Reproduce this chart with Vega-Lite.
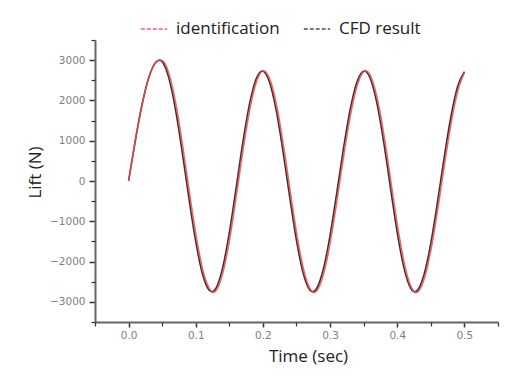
{
  "$schema": "https://vega.github.io/schema/vega-lite/v6.json",
  "autosize": "none",
  "width": 403,
  "height": 282,
  "padding": {"left": 95, "top": 40, "right": 26, "bottom": 56},
  "background": "white",
  "config": {
    "view": {"stroke": null},
    "font": "Open Sans",
    "legend": {
      "orient": "none",
      "legendX": 45,
      "legendY": -25,
      "direction": "horizontal",
      "symbolType": "stroke",
      "symbolStrokeWidth": 1.5,
      "symbolDash": [4, 2],
      "symbolSize": 700,
      "labelFontSize": 17,
      "labelFont": "Open Sans",
      "labelColor": "#222",
      "labelOffset": 8,
      "columnPadding": 20,
      "title": null
    }
  },
  "data": {
    "values": [
      {"t": 0, "lift": 0, "series": "CFD result"},
      {"t": 0.01, "lift": 1004, "series": "CFD result"},
      {"t": 0.02, "lift": 1893, "series": "CFD result"},
      {"t": 0.03, "lift": 2562, "series": "CFD result"},
      {"t": 0.04, "lift": 2937, "series": "CFD result"},
      {"t": 0.046, "lift": 3000, "series": "CFD result"},
      {"t": 0.05, "lift": 2963, "series": "CFD result"},
      {"t": 0.06, "lift": 2554, "series": "CFD result"},
      {"t": 0.07, "lift": 1761, "series": "CFD result"},
      {"t": 0.08, "lift": 700, "series": "CFD result"},
      {"t": 0.09, "lift": -450, "series": "CFD result"},
      {"t": 0.1, "lift": -1505, "series": "CFD result"},
      {"t": 0.11, "lift": -2310, "series": "CFD result"},
      {"t": 0.12, "lift": -2713, "series": "CFD result"},
      {"t": 0.124, "lift": -2750, "series": "CFD result"},
      {"t": 0.13, "lift": -2665, "series": "CFD result"},
      {"t": 0.14, "lift": -2158, "series": "CFD result"},
      {"t": 0.15, "lift": -1279, "series": "CFD result"},
      {"t": 0.16, "lift": -183, "series": "CFD result"},
      {"t": 0.17, "lift": 946, "series": "CFD result"},
      {"t": 0.18, "lift": 1908, "series": "CFD result"},
      {"t": 0.19, "lift": 2538, "series": "CFD result"},
      {"t": 0.199, "lift": 2730, "series": "CFD result"},
      {"t": 0.21, "lift": 2445, "series": "CFD result"},
      {"t": 0.22, "lift": 1735, "series": "CFD result"},
      {"t": 0.23, "lift": 724, "series": "CFD result"},
      {"t": 0.24, "lift": -410, "series": "CFD result"},
      {"t": 0.25, "lift": -1479, "series": "CFD result"},
      {"t": 0.26, "lift": -2292, "series": "CFD result"},
      {"t": 0.27, "lift": -2712, "series": "CFD result"},
      {"t": 0.274, "lift": -2750, "series": "CFD result"},
      {"t": 0.28, "lift": -2668, "series": "CFD result"},
      {"t": 0.29, "lift": -2186, "series": "CFD result"},
      {"t": 0.3, "lift": -1347, "series": "CFD result"},
      {"t": 0.31, "lift": -289, "series": "CFD result"},
      {"t": 0.32, "lift": 817, "series": "CFD result"},
      {"t": 0.33, "lift": 1785, "series": "CFD result"},
      {"t": 0.34, "lift": 2459, "series": "CFD result"},
      {"t": 0.351, "lift": 2730, "series": "CFD result"},
      {"t": 0.36, "lift": 2538, "series": "CFD result"},
      {"t": 0.37, "lift": 1908, "series": "CFD result"},
      {"t": 0.38, "lift": 946, "series": "CFD result"},
      {"t": 0.39, "lift": -183, "series": "CFD result"},
      {"t": 0.4, "lift": -1279, "series": "CFD result"},
      {"t": 0.41, "lift": -2158, "series": "CFD result"},
      {"t": 0.42, "lift": -2665, "series": "CFD result"},
      {"t": 0.426, "lift": -2750, "series": "CFD result"},
      {"t": 0.43, "lift": -2714, "series": "CFD result"},
      {"t": 0.44, "lift": -2314, "series": "CFD result"},
      {"t": 0.45, "lift": -1542, "series": "CFD result"},
      {"t": 0.46, "lift": -511, "series": "CFD result"},
      {"t": 0.47, "lift": 598, "series": "CFD result"},
      {"t": 0.48, "lift": 1607, "series": "CFD result"},
      {"t": 0.49, "lift": 2352, "series": "CFD result"},
      {"t": 0.5, "lift": 2716, "series": "CFD result"},
      {"t": 0, "lift": 0, "series": "identification"},
      {"t": 0.01, "lift": 1004, "series": "identification"},
      {"t": 0.02, "lift": 1893, "series": "identification"},
      {"t": 0.03, "lift": 2562, "series": "identification"},
      {"t": 0.04, "lift": 2937, "series": "identification"},
      {"t": 0.047, "lift": 3000, "series": "identification"},
      {"t": 0.052, "lift": 2963, "series": "identification"},
      {"t": 0.062, "lift": 2554, "series": "identification"},
      {"t": 0.072, "lift": 1761, "series": "identification"},
      {"t": 0.082, "lift": 700, "series": "identification"},
      {"t": 0.092, "lift": -450, "series": "identification"},
      {"t": 0.102, "lift": -1505, "series": "identification"},
      {"t": 0.112, "lift": -2310, "series": "identification"},
      {"t": 0.122, "lift": -2713, "series": "identification"},
      {"t": 0.126, "lift": -2770, "series": "identification"},
      {"t": 0.132, "lift": -2680, "series": "identification"},
      {"t": 0.142, "lift": -2170, "series": "identification"},
      {"t": 0.152, "lift": -1285, "series": "identification"},
      {"t": 0.162, "lift": -185, "series": "identification"},
      {"t": 0.172, "lift": 946, "series": "identification"},
      {"t": 0.182, "lift": 1908, "series": "identification"},
      {"t": 0.192, "lift": 2538, "series": "identification"},
      {"t": 0.201, "lift": 2735, "series": "identification"},
      {"t": 0.212, "lift": 2445, "series": "identification"},
      {"t": 0.222, "lift": 1735, "series": "identification"},
      {"t": 0.232, "lift": 724, "series": "identification"},
      {"t": 0.242, "lift": -410, "series": "identification"},
      {"t": 0.252, "lift": -1479, "series": "identification"},
      {"t": 0.262, "lift": -2292, "series": "identification"},
      {"t": 0.272, "lift": -2720, "series": "identification"},
      {"t": 0.276, "lift": -2770, "series": "identification"},
      {"t": 0.282, "lift": -2685, "series": "identification"},
      {"t": 0.292, "lift": -2195, "series": "identification"},
      {"t": 0.302, "lift": -1350, "series": "identification"},
      {"t": 0.312, "lift": -289, "series": "identification"},
      {"t": 0.322, "lift": 817, "series": "identification"},
      {"t": 0.332, "lift": 1785, "series": "identification"},
      {"t": 0.342, "lift": 2459, "series": "identification"},
      {"t": 0.353, "lift": 2735, "series": "identification"},
      {"t": 0.362, "lift": 2538, "series": "identification"},
      {"t": 0.372, "lift": 1908, "series": "identification"},
      {"t": 0.382, "lift": 946, "series": "identification"},
      {"t": 0.392, "lift": -183, "series": "identification"},
      {"t": 0.402, "lift": -1279, "series": "identification"},
      {"t": 0.412, "lift": -2160, "series": "identification"},
      {"t": 0.422, "lift": -2675, "series": "identification"},
      {"t": 0.428, "lift": -2770, "series": "identification"},
      {"t": 0.432, "lift": -2730, "series": "identification"},
      {"t": 0.442, "lift": -2320, "series": "identification"},
      {"t": 0.452, "lift": -1542, "series": "identification"},
      {"t": 0.462, "lift": -511, "series": "identification"},
      {"t": 0.472, "lift": 598, "series": "identification"},
      {"t": 0.482, "lift": 1607, "series": "identification"},
      {"t": 0.492, "lift": 2352, "series": "identification"},
      {"t": 0.5, "lift": 2690, "series": "identification"}
    ]
  },
  "resolve": {"axis": {"x": "independent", "y": "independent"}},
  "layer": [
    {
      "transform": [{"filter": "datum.series === 'CFD result'"}],
      "mark": {"type": "line", "interpolate": "monotone", "strokeWidth": 1.6},
      "encoding": {
        "x": {
          "field": "t", "type": "quantitative",
          "scale": {"domain": [-0.05, 0.55], "nice": false, "zero": false},
          "axis": {
            "orient": "bottom",
            "values": [0, 0.1, 0.2, 0.3, 0.4, 0.5],
            "format": ".1f",
            "grid": false,
            "title": "Time (sec)",
            "titleFont": "Open Sans",
            "titleFontSize": 17,
            "titleFontWeight": "normal",
            "titleColor": "#222",
            "titleX": 213,
            "titlePadding": 8,
            "labelFont": "DejaVu Sans",
            "labelFontSize": 10.5,
            "labelColor": "#808080",
            "labelPadding": 3,
            "tickSize": 5,
            "tickWidth": 1.5,
            "tickColor": "#333",
            "domainColor": "#666",
            "domainWidth": 2
          }
        },
        "y": {
          "field": "lift", "type": "quantitative",
          "scale": {"domain": [-3500, 3500], "nice": false, "zero": false},
          "axis": {
            "orient": "left",
            "values": [-3000, -2000, -1000, 0, 1000, 2000, 3000],
            "format": "d",
            "grid": false,
            "title": "Lift (N)",
            "titleFont": "Open Sans",
            "titleFontSize": 17,
            "titleFontWeight": "normal",
            "titleColor": "#222",
            "titleY": 132,
            "titlePadding": 5,
            "labelFont": "DejaVu Sans",
            "labelFontSize": 10.5,
            "labelColor": "#808080",
            "labelPadding": 4,
            "tickSize": 6,
            "tickWidth": 1.5,
            "tickColor": "#333",
            "domainColor": "#666",
            "domainWidth": 2
          }
        },
        "color": {
          "field": "series", "type": "nominal",
          "scale": {"domain": ["identification", "CFD result"], "range": ["#f04848", "#333333"]},
          "legend": {"title": null}
        }
      }
    },
    {
      "transform": [{"filter": "datum.series === 'identification'"}],
      "mark": {"type": "line", "interpolate": "monotone", "strokeWidth": 1.6, "opacity": 0.85},
      "encoding": {
        "x": {
          "field": "t", "type": "quantitative",
          "axis": {
            "orient": "bottom",
            "values": [-0.05, 0.05, 0.15, 0.25, 0.35, 0.45, 0.55],
            "labels": false,
            "domain": false,
            "grid": false,
            "title": null,
            "tickSize": 4,
            "tickWidth": 1.2,
            "tickColor": "#333"
          }
        },
        "y": {
          "field": "lift", "type": "quantitative",
          "axis": {
            "orient": "left",
            "values": [-3500, -2500, -1500, -500, 500, 1500, 2500, 3500],
            "labels": false,
            "domain": false,
            "grid": false,
            "title": null,
            "tickSize": 4,
            "tickWidth": 1.2,
            "tickColor": "#333"
          }
        },
        "color": {"field": "series", "type": "nominal", "legend": {"title": null}}
      }
    }
  ]
}
